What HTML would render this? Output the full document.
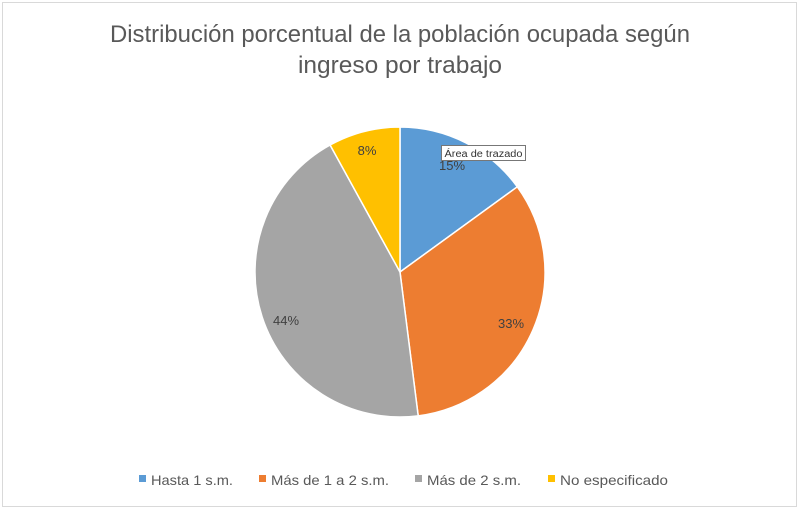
<!DOCTYPE html>
<html><head><meta charset="utf-8"><style>
html,body{margin:0;padding:0;background:#fff;}
svg{display:block;font-family:"Liberation Sans",sans-serif;}
</style></head><body>
<svg width="800" height="511" viewBox="0 0 800 511" xmlns="http://www.w3.org/2000/svg">
<rect x="0" y="0" width="800" height="511" fill="#fff"/>
<rect x="2.5" y="2.5" width="794" height="504" fill="#fff" stroke="#d9d9d9" stroke-width="1"/>
<text x="400" y="42" text-anchor="middle" font-size="24" fill="#595959" textLength="580" lengthAdjust="spacingAndGlyphs">Distribución porcentual de la población ocupada según</text>
<text x="400" y="73" text-anchor="middle" font-size="24" fill="#595959" textLength="204" lengthAdjust="spacingAndGlyphs">ingreso por trabajo</text>
<g stroke="#fff" stroke-width="1.5" stroke-linejoin="round">
<path d="M400,272 L400,127 A145,145 0 0 1 517.3,186.8 Z" fill="#5b9bd5"/>
<path d="M400,272 L517.3,186.8 A145,145 0 0 1 418.2,415.9 Z" fill="#ed7d31"/>
<path d="M400,272 L418.2,415.9 A145,145 0 0 1 330.1,145.0 Z" fill="#a5a5a5"/>
<path d="M400,272 L330.1,145.0 A145,145 0 0 1 400,127 Z" fill="#ffc000"/>
</g>
<g font-size="13" fill="#404040" text-anchor="middle">
<text x="452" y="170">15%</text>
<text x="511" y="328">33%</text>
<text x="286" y="325">44%</text>
<text x="367" y="155">8%</text>
</g>
<rect x="441.5" y="145.5" width="84" height="15" fill="#fff" stroke="#777" stroke-width="1"/>
<text x="483.5" y="157" text-anchor="middle" font-size="10" fill="#333" textLength="78" lengthAdjust="spacingAndGlyphs">Área de trazado</text>
<g font-size="14" fill="#595959">
<rect x="139" y="475" width="7" height="7" fill="#5b9bd5"/>
<text x="151" y="485" textLength="82" lengthAdjust="spacingAndGlyphs">Hasta 1 s.m.</text>
<rect x="259" y="475" width="7" height="7" fill="#ed7d31"/>
<text x="271" y="485" textLength="118" lengthAdjust="spacingAndGlyphs">Más de 1 a 2 s.m.</text>
<rect x="415" y="475" width="7" height="7" fill="#a5a5a5"/>
<text x="427" y="485" textLength="94" lengthAdjust="spacingAndGlyphs">Más de 2 s.m.</text>
<rect x="548" y="475" width="7" height="7" fill="#ffc000"/>
<text x="560" y="485" textLength="108" lengthAdjust="spacingAndGlyphs">No especificado</text>
</g>
</svg>
</body></html>
